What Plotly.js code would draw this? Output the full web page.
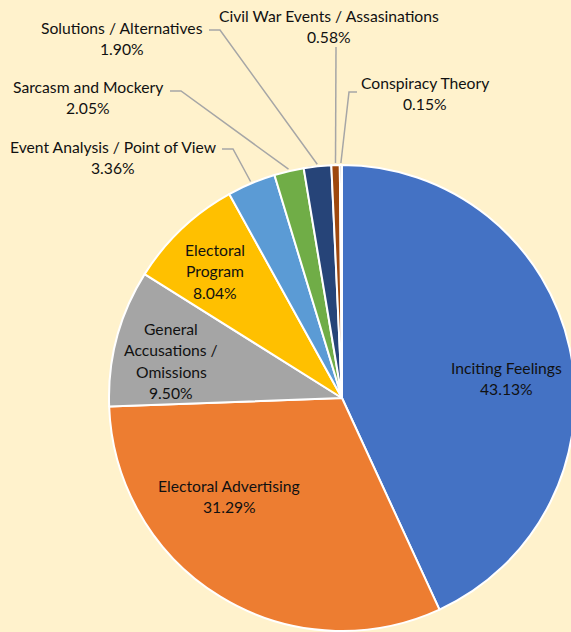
<!DOCTYPE html>
<html>
<head>
<meta charset="utf-8">
<script src="https://cdn.plot.ly/plotly-3.0.1.min.js"></script>
<style>
  html, body { margin: 0; padding: 0; overflow: hidden; background: #FFF2CC; }
  #chart { width: 580px; height: 632px; }
</style>
</head>
<body>
<div id="chart"></div>
<script>
// ---- data ----
const categories = [
  "Inciting Feelings",
  "Electoral Advertising",
  "General Accusations / Omissions",
  "Electoral Program",
  "Event Analysis / Point of View",
  "Sarcasm and Mockery",
  "Solutions / Alternatives",
  "Civil War Events / Assasinations",
  "Conspiracy Theory"
];
const shares = [43.13, 31.29, 9.50, 8.04, 3.36, 2.05, 1.90, 0.58, 0.15];
const sliceColors = ["#4472C4", "#ED7D31", "#A5A5A5", "#FFC000", "#5B9BD5", "#70AD47", "#264478", "#9E480E", "#636363"];
// label text as displayed (line breaks)
const labelLines = [
  ["Inciting Feelings"],
  ["Electoral Advertising"],
  ["General", "Accusations /", "Omissions"],
  ["Electoral", "Program"],
  ["Event Analysis / Point of View"],
  ["Sarcasm and Mockery"],
  ["Solutions / Alternatives"],
  ["Civil War Events / Assasinations"],
  ["Conspiracy Theory"]
];

// ---- layout (pixels) ----
const W = 580, H = 632;
const CX = 342, CY = 398, R = 233;
const LINE = 21.3;
// label anchor: centre x, first line y
const labelPos = [
  [506, 368], [229, 486], [171, 329], [215, 250],
  [113, 147], [88, 87], [122, 28], [329, 16], [425, 83]
];
// leader lines for outside labels: [start, elbow]
const leaders = {
  4: [[222, 149], [233, 149]],
  5: [[170, 91], [181, 91]],
  6: [[209, 30], [220, 30]],
  7: [[336, 47], [336, 47]],
  8: [[357, 92], [349, 92]]
};

const px = x => x / W;
const py = y => 1 - y / H;
const font = { family: "Lato, 'Open Sans', sans-serif", size: 15.7, color: "#111111" };

const total = shares.reduce((a, b) => a + b, 0);
const annotations = [];
const shapes = [];
let cum = 0;
shares.forEach((v, i) => {
  const mid = (cum + v / 2) / total * 2 * Math.PI;
  cum += v;
  const lines = labelLines[i].concat([v.toFixed(2) + "%"]);
  const [lx, ly] = labelPos[i];
  lines.forEach((t, k) => {
    annotations.push({
      xref: "paper", yref: "paper", x: px(lx), y: py(ly + k * LINE),
      xanchor: "center", yanchor: "middle", text: t, showarrow: false, font: font
    });
  });
  if (leaders[i]) {
    const ex = CX + (R + 2) * Math.sin(mid);
    const ey = CY - (R + 2) * Math.cos(mid);
    const [s, e] = leaders[i];
    shapes.push({
      type: "path", xref: "paper", yref: "paper",
      path: `M ${px(s[0])},${py(s[1])} L ${px(e[0])},${py(e[1])} L ${px(ex)},${py(ey)}`,
      line: { color: "#A6A6A6", width: 1.5 }
    });
  }
});

const trace = {
  type: "pie",
  labels: categories,
  values: shares,
  sort: false,
  direction: "clockwise",
  rotation: 0,
  textinfo: "none",
  hoverinfo: "label+percent",
  marker: { colors: sliceColors, line: { color: "#FFFFFF", width: 2 } },
  domain: { x: [(CX - R) / W, (CX + R) / W], y: [1 - (CY + R) / H, 1 - (CY - R) / H] },
  showlegend: false
};

const layout = {
  width: W, height: H,
  margin: { l: 0, r: 0, t: 0, b: 0 },
  paper_bgcolor: "#FFF2CC",
  plot_bgcolor: "#FFF2CC",
  showlegend: false,
  annotations: annotations,
  shapes: shapes
};

Plotly.newPlot("chart", [trace], layout, { displayModeBar: false, staticPlot: true });
</script>
</body>
</html>
